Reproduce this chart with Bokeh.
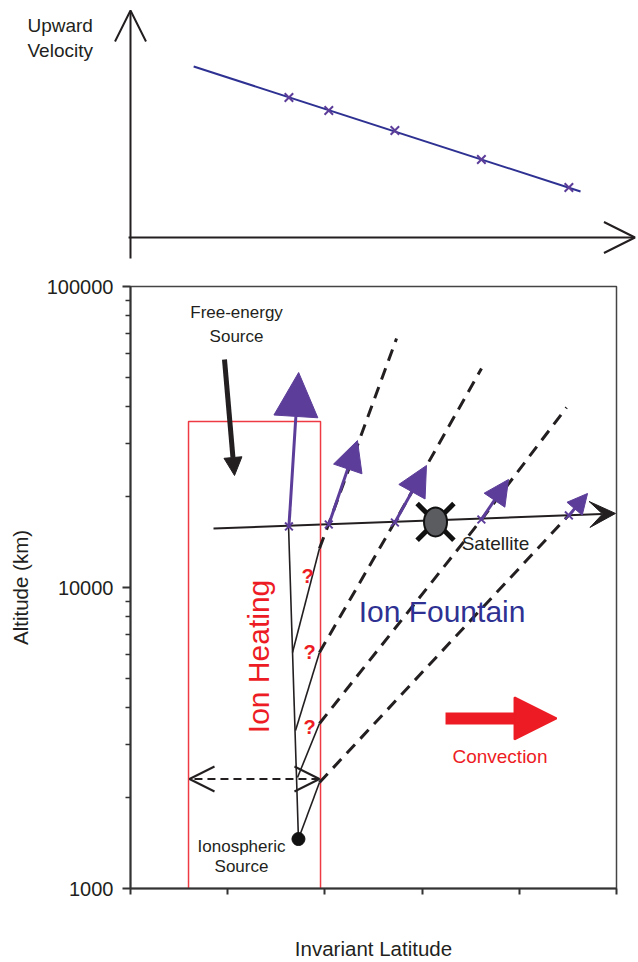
from bokeh.plotting import figure
from bokeh.models import (Range1d, Arrow, NormalHead, OpenHead, VeeHead, FixedTicker,
                          NumeralTickFormatter, CustomJSTickFormatter)
from bokeh.layouts import column
from bokeh.embed import file_html
from bokeh.resources import INLINE
from bokeh.core.properties import value
import math

FONT = "Liberation Sans"
PURPLE = "#5c3d99"
BLUE = "#2e3192"
RED = "#ed1c24"
BOXRED = "#ee3a43"
DARK = "#231f20"

# ---------------- data: top panel (upward velocity, arbitrary units) ----------------
vel_line_lat = [0.65, 4.63]
vel_line_val = [17.1, 4.6]
obs_lat = [1.63, 2.04, 2.72, 3.61, 4.51]
obs_vel = [14.0, 12.7, 10.7, 7.8, 5.0]
top_xaxis_lat = [-0.02, 5.19]
top_xaxis_val = [0.0, 0.0]
top_yaxis_lat = [0.0, 0.0]
top_yaxis_val = [-2.1, 22.7]
top_title_lines = ["Upward", "Velocity"]

# ---------------- data: bottom panel (altitude km vs invariant latitude) ----------------
lat_ticks = [0, 1, 2, 3, 4, 5]
alt_ticks = [1000, 10000, 100000]
alt_minor = [m * d for d in (1000, 10000) for m in range(2, 10)]

obs_alt = [15950, 16190, 16440, 16820, 17350]
outflow_tip_lat = [1.73, 2.335, 3.045, 3.889, 4.702]
outflow_tip_alt = [51800, 30780, 25430, 22850, 20530]
outflow_head = [44, 30, 30, 25, 20]

sat_track_lat = [0.854, 4.99]
sat_track_alt = [15700, 17620]
sat_lat = [3.138]
sat_alt = [16510]

source_lat = [1.728]
source_alt = [1460]

# near-vertical field line from the source to the first crossing
main_line_lat = [1.728, 1.626]
main_line_alt = [1460, 15950]
# solid branches inside the heating region
branch_lat = [[1.667, 1.944], [1.698, 1.944], [1.718, 1.944], [1.728, 1.944]]
branch_alt = [[6083, 13480], [3349, 6083], [2337, 3533], [1460, 2250]]
# dashed convecting field lines beyond the heating region
drift_lat = [[1.944, 2.037, 2.737], [1.944, 2.716, 3.611], [1.944, 3.611, 4.486], [1.944, 4.506]]
drift_alt = [[13480, 16190, 67200], [6083, 16440, 53400], [3533, 16820, 39630], [2250, 17350]]

heat_box_lat = [0.597, 0.597, 1.955, 1.955]
heat_box_alt = [1000, 35600, 35600, 1000]
heat_width_lat = [1.944, 0.607]
heat_width_alt = [2311, 2311]

energy_lat = [0.967, 1.070]
energy_alt = [57200, 23560]
conv_lat = [3.241, 4.383]
conv_alt = [3672, 3672]

q_lat = [1.821, 1.842, 1.842]
q_alt = [10920, 6106, 3440]

# ---------------- top figure ----------------
top = figure(width=638, height=262, x_range=Range1d(-1.3374, 5.2263), y_range=Range1d(-2.5, 23.7),
             output_backend="svg", toolbar_location=None, min_border=0,
             x_axis_location=None, y_axis_location=None)
top.grid.visible = False
top.outline_line_color = None

top.add_layout(Arrow(x_start=top_xaxis_lat[0], y_start=top_xaxis_val[0],
                     x_end=top_xaxis_lat[1], y_end=top_xaxis_val[1],
                     line_width=2, line_color=DARK,
                     end=OpenHead(size=31, line_width=2, line_color=DARK)))
top.add_layout(Arrow(x_start=top_yaxis_lat[0], y_start=top_yaxis_val[0],
                     x_end=top_yaxis_lat[1], y_end=top_yaxis_val[1],
                     line_width=2, line_color=DARK,
                     end=OpenHead(size=31, line_width=2, line_color=DARK)))
top.line(vel_line_lat, vel_line_val, line_color=BLUE, line_width=2)
top.scatter(obs_lat, obs_vel, marker="x", size=12, line_width=2, line_color=PURPLE)
top.text(x=[-1.06, -1.06], y=[21.2, 18.67], text=top_title_lines,
         text_font=value(FONT), text_font_size=value("19px"), text_color=DARK,
         text_align="left", text_baseline="middle")

# ---------------- bottom figure ----------------
bot = figure(width=638, height=700, y_axis_type="log",
             x_range=Range1d(0, 5), y_range=Range1d(1000, 100000),
             output_backend="svg", toolbar_location=None,
             min_border_left=130, min_border_right=22, min_border_top=24, min_border_bottom=74)
bot.grid.visible = False
bot.outline_line_color = "#444444"
bot.outline_line_width = 1.5

for fig in (top, bot):
    try:
        fig.frame_align = False
    except Exception:
        pass

bot.xaxis.ticker = FixedTicker(ticks=lat_ticks)
bot.xaxis.formatter = CustomJSTickFormatter(code="return ''")
bot.xaxis.axis_label = "Invariant Latitude"
bot.xaxis.axis_label_standoff = 42
bot.xaxis.axis_label_text_line_height = 0.8
bot.xaxis.major_label_standoff = 0
bot.xaxis.major_tick_out = 6
bot.xaxis.major_tick_in = 0

bot.yaxis.ticker = FixedTicker(ticks=alt_ticks, minor_ticks=alt_minor)
bot.yaxis.formatter = NumeralTickFormatter(format="0")
bot.yaxis.axis_label = "Altitude (km)"
bot.yaxis.axis_label_standoff = 12
bot.yaxis.major_tick_out = 8
bot.yaxis.major_tick_in = 0
bot.yaxis.minor_tick_out = 5
bot.yaxis.minor_tick_in = 0
bot.yaxis.major_label_standoff = 9

for ax in (bot.xaxis[0], bot.yaxis[0]):
    ax.axis_line_color = "#333333"
    ax.axis_line_width = 2
    ax.major_tick_line_color = "#333333"
    ax.major_tick_line_width = 2
    ax.minor_tick_line_width = 1.5
    ax.minor_tick_line_color = "#333333" if ax is bot.yaxis[0] else None
    ax.axis_label_text_font = FONT
    ax.axis_label_text_font_size = "20.5px"
    ax.axis_label_text_font_style = "normal"
    ax.axis_label_text_color = DARK
    ax.major_label_text_font = FONT
    ax.major_label_text_font_size = "20px"
    ax.major_label_text_color = DARK

# heating region box
bot.line(heat_box_lat, heat_box_alt, line_color=BOXRED, line_width=1.5)

# satellite track (under everything)
bot.add_layout(Arrow(x_start=sat_track_lat[0], y_start=sat_track_alt[0],
                     x_end=sat_track_lat[1], y_end=sat_track_alt[1],
                     line_width=2, line_color=DARK, level="underlay",
                     end=VeeHead(size=26, fill_color=DARK, line_color=DARK)))

# field lines
bot.line(main_line_lat, main_line_alt, line_color=DARK, line_width=1.6)
bot.multi_line(branch_lat, branch_alt, line_color=DARK, line_width=1.6)
bot.multi_line(drift_lat, drift_alt, line_color=DARK, line_width=3, line_dash="12 8")

# heating-width double arrow
bot.add_layout(Arrow(x_start=heat_width_lat[0], y_start=heat_width_alt[0],
                     x_end=heat_width_lat[1], y_end=heat_width_alt[1],
                     line_width=2, line_color=DARK, line_dash="8 5",
                     start=OpenHead(size=25, line_width=2, line_color=DARK),
                     end=OpenHead(size=25, line_width=2, line_color=DARK)))

# free-energy arrow
bot.add_layout(Arrow(x_start=energy_lat[0], y_start=energy_alt[0],
                     x_end=energy_lat[1], y_end=energy_alt[1],
                     line_width=5, line_color=DARK,
                     end=NormalHead(size=18, fill_color=DARK, line_color=DARK)))

# convection arrow
bot.add_layout(Arrow(x_start=conv_lat[0], y_start=conv_alt[0],
                     x_end=conv_lat[1], y_end=conv_alt[1],
                     line_width=12, line_color=RED,
                     end=NormalHead(size=42, fill_color=RED, line_color=RED, line_width=2)))

# ion outflow arrows
for i in range(len(obs_lat)):
    bot.add_layout(Arrow(x_start=obs_lat[i], y_start=obs_alt[i],
                         x_end=outflow_tip_lat[i], y_end=outflow_tip_alt[i],
                         line_width=3, line_color=PURPLE,
                         end=NormalHead(size=outflow_head[i], fill_color=PURPLE,
                                        line_color=PURPLE, line_width=1)))

# satellite
bot.scatter(sat_lat, sat_alt, marker="x", size=52, line_width=5, line_color="#111111")
bot.ellipse(sat_lat, sat_alt, width=23, height=29, width_units="screen", height_units="screen",
            fill_color="#5a5c60", line_color="#111111", line_width=2)

# observation crossings
bot.scatter(obs_lat, obs_alt, marker="x", size=11, line_width=2, line_color=PURPLE)

# ionospheric source
bot.scatter(source_lat, source_alt, marker="circle", size=13, fill_color="#111111", line_color="#111111")

# texts
bot.text(x=[1.091, 1.091], y=[81660, 68470], text=["Free-energy", "Source"],
         text_font=value(FONT), text_font_size=value("17px"), text_color=DARK,
         text_align="center", text_baseline="middle")
bot.text(x=[1.142, 1.142], y=[1382, 1183], text=["Ionospheric", "Source"],
         text_font=value(FONT), text_font_size=value("17px"), text_color=DARK,
         text_align="center", text_baseline="middle")
bot.text(x=[3.755], y=[14000], text=["Satellite"],
         text_font=value(FONT), text_font_size=value("19px"), text_color=DARK,
         text_align="center", text_baseline="middle")
bot.text(x=[3.801], y=[2751], text=["Convection"],
         text_font=value(FONT), text_font_size=value("19px"), text_color=RED,
         text_align="center", text_baseline="middle")
bot.text(x=[3.205], y=[8324], text=["Ion Fountain"],
         text_font=value(FONT), text_font_size=value("30px"), text_color=BLUE,
         text_align="center", text_baseline="middle")
bot.text(x=[1.312], y=[5901], text=["Ion Heating"], angle=math.pi / 2,
         text_font=value(FONT), text_font_size=value("30px"), text_color=RED,
         text_align="center", text_baseline="middle")
bot.text(x=q_lat, y=q_alt, text=["?", "?", "?"],
         text_font=value(FONT), text_font_size=value("20px"), text_font_style="bold",
         text_color=RED, text_align="center", text_baseline="middle")

layout = column(top, bot, spacing=0)
open("out.html", "w").write(file_html(layout, INLINE))
